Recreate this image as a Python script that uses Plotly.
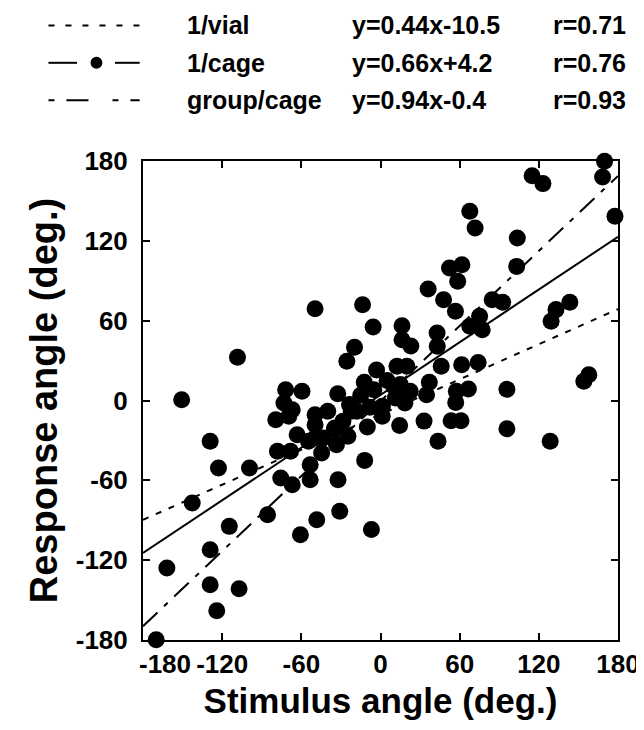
import plotly.graph_objects as go

# ---- data ----
stim_x = [
    -49.6, -13.6, -5.6, -19.7, -25.5, -108.4, -150.7, -71.9, -59.5, -73.2,
    -32.4, -12.3, -3.0, -15.0, -23.5, -66.9, -79.4, -69.5, -49.6, -49.6,
    -63.2, -28.5, -78.1, -68.2, -33.4, -24.7, -12.0, -75.6, -66.9, -53.3,
    -32.2, -85.6, -48.3, -30.9, -60.7, -6.9, -44.6, -53.3, -129.1, -122.8,
    -99.3, -142.7, -161.9, -129.1, -114.6, -129.1, -107.2, -124.1, -170.0, -54.6,
    -43.4, -40.0, -35.0, -22.2, -34.7, -49.6,
    169.8, 168.3, 114.9, 123.1, 177.7, 67.7, 71.7, 103.7, 103.2, 52.3,
    61.7, 58.5, 36.1, 47.8, 56.8, 84.6, 92.6, 75.1, 67.7, 77.1,
    143.5, 133.0, 129.3, 16.3, 16.3, 23.0, 42.9, 43.0, 46.0, 61.5,
    74.0, 95.8, 157.9, 154.1, 12.5, 20.0, 57.5, 66.6, 37.0, 34.9,
    22.5, 10.1, 95.8, 128.6, 43.6, 33.0, 53.5, 61.0, 57.0, 18.5,
    1.5, 14.5, 1.3, 11.3, -5.0, 5.0, 15.0, -18.0, -10.0, -8.0,
]
resp_y = [
    69.0, 72.0, 55.2, 40.0, 29.5, 32.5, 0.6, 8.1, 6.9, -1.9,
    5.0, 13.7, 23.0, 4.0, -3.1, -6.9, -14.4, -11.9, -10.7, -18.2,
    -25.7, -15.6, -38.2, -38.2, -33.2, -26.9, -45.0, -58.2, -63.3, -59.5,
    -59.5, -85.8, -89.6, -83.3, -100.9, -97.0, -39.5, -48.3, -30.7, -50.7,
    -50.7, -77.0, -125.9, -112.1, -94.6, -138.4, -141.4, -158.0, -179.8, -30.7,
    -28.2, -8.0, -22.0, -8.1, -20.7, -28.2,
    179.8, 168.0, 169.0, 163.0, 138.4, 142.2, 129.7, 122.1, 100.8, 99.6,
    102.0, 89.6, 83.8, 75.8, 67.0, 75.8, 73.8, 63.3, 55.8, 53.2,
    73.8, 68.3, 59.5, 56.2, 45.7, 41.0, 50.7, 40.7, 25.7, 26.9,
    28.5, 8.4, 19.4, 14.4, 25.7, 25.7, 6.9, 8.7, 13.8, 4.4,
    6.9, 10.7, -21.2, -30.7, -30.7, -15.5, -15.2, -15.2, -1.5, -1.8,
    -4.3, -18.8, -11.9, 1.9, 8.0, 15.0, 12.0, -8.0, -20.0, -5.0,
]

group_names = ["1/vial", "1/cage", "group/cage"]
slopes = [0.44, 0.66, 0.94]
intercepts = [-10.5, 4.2, -0.4]
r_values = [0.71, 0.76, 0.93]
line_dashes = ["6px,8px", "solid", "20px,9px,5px,9px"]
legend_dashes = ["6px,11px", "solid", "6px,12px,22px,24px"]

tick_vals = [-180, -120, -60, 0, 60, 120, 180]
x_tick_text = ["", "-120", "-60", "0", "60", "120", "180"]
first_x_label = "-180"
y_tick_text = ["-180", "-120", "-60", "0", "60", "120", "180"]
axis_range = [-180, 180]

FONT = "Liberation Sans, Arial, Helvetica, sans-serif"
TICK_SIZE = 26

fig = go.Figure()

# scatter points
fig.add_trace(go.Scatter(
    x=stim_x, y=resp_y, mode="markers",
    marker=dict(size=17, color="black", line=dict(width=0)),
    showlegend=False, cliponaxis=False,
))

# regression lines
for m, b, d in zip(slopes, intercepts, line_dashes):
    xs = axis_range
    ys = [m * v + b for v in xs]
    fig.add_trace(go.Scatter(
        x=xs, y=ys, mode="lines",
        line=dict(color="black", width=2, dash=d),
        showlegend=False,
    ))

# ---- custom legend table (paper coordinates) ----
row_y = [1.283, 1.205, 1.127]
sample_x0, sample_x1 = -0.199, -0.007
dot_x = -0.098
name_x, eq_x, r_x = 0.088, 0.435, 0.859

annotations = []
shapes = []
for i, (nm, m, b, r) in enumerate(zip(group_names, slopes, intercepts, r_values)):
    yy = row_y[i]
    sign = "+" if b >= 0 else "-"
    eq = f"y={m:.2f}x{sign}{abs(b):.1f}"
    for txt, xx in [(nm, name_x), (eq, eq_x), (f"r={r:.2f}", r_x)]:
        annotations.append(dict(
            text=txt, x=xx, y=yy, xref="paper", yref="paper",
            xanchor="left", yanchor="middle", showarrow=False,
            font=dict(family=FONT, size=25, color="black", weight="bold"),
        ))
    if i == 1:
        shapes.append(dict(type="line", xref="paper", yref="paper",
                           x0=sample_x0, x1=dot_x - 0.041, y0=yy, y1=yy,
                           line=dict(color="black", width=2)))
        shapes.append(dict(type="line", xref="paper", yref="paper",
                           x0=dot_x + 0.039, x1=sample_x1, y0=yy, y1=yy,
                           line=dict(color="black", width=2)))
        shapes.append(dict(type="circle", xref="paper", yref="paper",
                           x0=dot_x - 0.0125, x1=dot_x + 0.0125,
                           y0=yy - 0.0126, y1=yy + 0.0126,
                           fillcolor="black", line=dict(width=0)))
    else:
        shapes.append(dict(type="line", xref="paper", yref="paper",
                           x0=sample_x0, x1=sample_x1, y0=yy, y1=yy,
                           line=dict(color="black", width=2, dash=legend_dashes[i])))

# first x tick label, nudged right of the corner as in the original
annotations.append(dict(
    text=first_x_label, x=tick_vals[0], y=0, xref="x", yref="paper",
    xanchor="center", yanchor="top", xshift=22, yshift=-7, showarrow=False,
    font=dict(family=FONT, size=TICK_SIZE, color="black", weight="bold"),
))

axis_common = dict(
    range=axis_range, tickvals=tick_vals, ticks="inside", ticklen=7,
    tickwidth=2, tickcolor="black", showline=True, linewidth=2,
    linecolor="black", mirror="ticks", showgrid=False, zeroline=False,
    tickfont=dict(family=FONT, size=TICK_SIZE, color="black", weight="bold"),
    fixedrange=True,
)

fig.update_layout(
    width=644, height=730,
    margin=dict(l=135, r=26, t=153, b=98),
    plot_bgcolor="white", paper_bgcolor="white",
    xaxis=dict(axis_common, ticktext=x_tick_text,
               title=dict(text="Stimulus angle (deg.)", standoff=10,
                          font=dict(family=FONT, size=35, color="black", weight="bold"))),
    yaxis=dict(axis_common, ticktext=y_tick_text, ticklabelstandoff=8,
               title=dict(text="Response angle (deg.)", standoff=6,
                          font=dict(family=FONT, size=38, color="black", weight="bold"))),
    annotations=annotations,
    shapes=shapes,
    showlegend=False,
)

fig.write_html("out.html")
